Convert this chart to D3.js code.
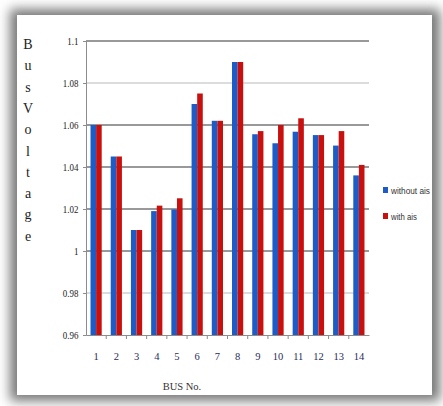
<!DOCTYPE html>
<html>
<head>
<meta charset="utf-8">
<script src="https://cdn.jsdelivr.net/npm/d3@7"></script>
<style>
  body { margin: 0; background: #fff; }
  svg { display: block; }
</style>
</head>
<body>
<div id="chart"></div>
<script>
// bus numbers and voltages
var buses = ["1","2","3","4","5","6","7","8","9","10","11","12","13","14"];
var withoutAis = [1.06, 1.045, 1.01, 1.019, 1.0198, 1.07, 1.062, 1.09, 1.0556, 1.0513, 1.0568, 1.0552, 1.0502, 1.036];
var withAis    = [1.06, 1.045, 1.01, 1.0216, 1.0251, 1.075, 1.062, 1.09, 1.0571, 1.06, 1.0632, 1.0552, 1.0571, 1.041];
var seriesNames = ["without ais", "with ais"];
var seriesColors = ["#1d5cc6", "#c8110f"];
var yTicks = [0.96, 0.98, 1, 1.02, 1.04, 1.06, 1.08, 1.1];
var yTitle = "BusVoltage".split("");

var W = 443, H = 406;
var margin = {top: 41, right: 74, bottom: 71, left: 86},
    width = W - margin.left - margin.right,
    height = H - margin.top - margin.bottom;

var svg = d3.select("#chart").append("svg")
  .attr("width", W)
  .attr("height", H);

// shadowed panel
var defs = svg.append("defs");
defs.append("filter").attr("id", "blur")
  .attr("x", "-20%").attr("y", "-20%").attr("width", "140%").attr("height", "140%")
  .append("feGaussianBlur").attr("stdDeviation", 6);

svg.append("rect")
  .attr("x", 10).attr("y", 9).attr("width", 430).attr("height", 392)
  .attr("fill", "#777")
  .attr("filter", "url(#blur)");
svg.append("rect")
  .attr("x", 17).attr("y", 15).attr("width", 415).attr("height", 380)
  .attr("fill", "#fff");

var g = svg.append("g")
  .attr("transform", "translate(" + margin.left + "," + margin.top + ")");

var x0 = d3.scaleBand().domain(buses).range([0, width]).paddingInner(0).paddingOuter(0);
var x1 = d3.scaleBand().domain([0, 1]).range([x0.bandwidth() / 2 - 5.6, x0.bandwidth() / 2 + 5.6]);
var y = d3.scaleLinear().domain([0.96, 1.1]).range([height, 0]);

// gridlines
g.selectAll(".grid")
  .data(yTicks.slice(1))
  .enter().append("line")
  .attr("class", "grid")
  .attr("x1", 0).attr("x2", width)
  .attr("y1", function(d){ return y(d) })
  .attr("y2", function(d){ return y(d) })
  .attr("stroke", function(d){ return (d === 1.08 || d === 0.98) ? "#dcdcdc" : "#999" })
  .attr("stroke-width", 1.8);

// bars
var groups = g.selectAll(".bus")
  .data(buses)
  .enter().append("g")
  .attr("class", "bus")
  .attr("transform", function(d){ return "translate(" + x0(d) + ",0)" });

groups.selectAll("rect")
  .data(function(d, i){ return [withoutAis[i], withAis[i]] })
  .enter().append("rect")
  .attr("x", function(d, j){ return x1(j) })
  .attr("width", x1.bandwidth())
  .attr("y", function(d){ return y(d) })
  .attr("height", function(d){ return height - y(d) })
  .attr("fill", function(d, j){ return seriesColors[j] });

// y axis
var yAxis = g.append("g")
  .call(d3.axisLeft(y).tickValues(yTicks).tickSize(3).tickFormat(function(d){ return d3.format("")(+d.toFixed(2)) }));
yAxis.select(".domain").attr("stroke", "#8c8c8c");
yAxis.selectAll(".tick line").attr("stroke", "#8c8c8c");
yAxis.selectAll("text")
  .attr("x", -9)
  .attr("fill", "#222")
  .style("font-family", "'Liberation Serif', serif")
  .style("font-size", "10.5px")
  .attr("transform", "scale(0.85,1)");

// x axis
var xAxis = g.append("g")
  .attr("transform", "translate(0," + height + ")")
  .call(d3.axisBottom(x0).tickSize(0));
xAxis.select(".domain").attr("stroke", "#8c8c8c");
xAxis.selectAll("text")
  .attr("y", 18)
  .attr("fill", "#2a2a5a")
  .style("font-family", "'Liberation Serif', serif")
  .style("font-size", "10.5px");
xAxis.selectAll(".sep")
  .data(buses.slice(1))
  .enter().append("line")
  .attr("class", "sep")
  .attr("x1", function(d){ return x0(d) }).attr("x2", function(d){ return x0(d) })
  .attr("y1", 0).attr("y2", 4)
  .attr("stroke", "#8c8c8c");

// axis titles
svg.append("text")
  .attr("x", 182).attr("y", 390)
  .attr("text-anchor", "middle")
  .style("font-family", "'Liberation Serif', serif")
  .style("font-size", "10.5px")
  .attr("fill", "#333")
  .text("BUS No.");

svg.selectAll(".ytitle")
  .data(yTitle)
  .enter().append("text")
  .attr("class", "ytitle")
  .attr("x", 28)
  .attr("y", function(d, i){ return 49 + i * 21.3 })
  .attr("text-anchor", "middle")
  .style("font-family", "'Liberation Serif', serif")
  .style("font-size", "14px")
  .attr("fill", "#222")
  .text(function(d){ return d });

// legend
var legend = svg.selectAll(".legend")
  .data(seriesNames)
  .enter().append("g")
  .attr("class", "legend")
  .attr("transform", function(d, i){ return "translate(383," + (187 + i * 26) + ")" });
legend.append("rect")
  .attr("width", 5).attr("height", 6)
  .attr("fill", function(d, i){ return seriesColors[i] });
legend.append("text")
  .attr("x", 8).attr("y", 6.5)
  .style("font-family", "'Liberation Sans', sans-serif")
  .style("font-size", "9.5px")
  .attr("fill", "#333")
  .attr("textLength", function(d, i){ return i === 0 ? 39 : 26 })
  .attr("lengthAdjust", "spacingAndGlyphs")
  .text(function(d){ return d });
</script>
</body>
</html>
